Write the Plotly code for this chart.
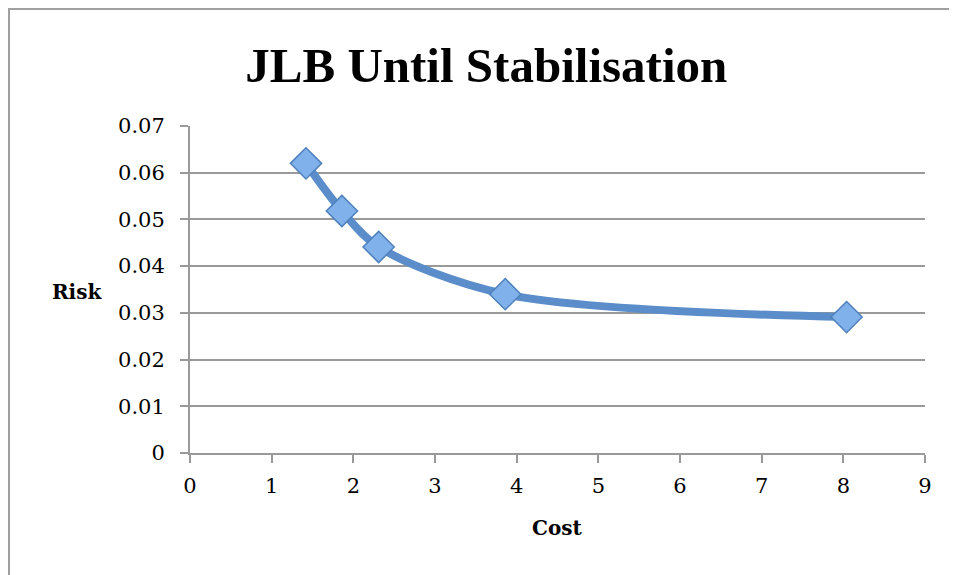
import plotly.graph_objects as go

cost = [1.42, 1.86, 2.31, 3.86, 8.04]
risk = [0.062, 0.0518, 0.0441, 0.034, 0.0291]
x_ticks = [0, 1, 2, 3, 4, 5, 6, 7, 8, 9]
y_ticks = [0, 0.01, 0.02, 0.03, 0.04, 0.05, 0.06, 0.07]
y_tick_labels = ["0", "0.01", "0.02", "0.03", "0.04", "0.05", "0.06", "0.07"]

serif = "DejaVu Serif, serif"
title_font = "Liberation Serif, DejaVu Serif, serif"

W, H = 949, 567
L, R, T, B = 182, 32, 118, 122
pw, ph = W - L - R, H - T - B

fig = go.Figure()
fig.add_trace(go.Scatter(
    x=cost, y=risk, mode="lines",
    line=dict(color="#5A8DC9", width=8, shape="spline", smoothing=0.9),
    hoverinfo="skip", showlegend=False,
))
fig.add_trace(go.Scatter(
    x=cost, y=risk, mode="markers",
    marker=dict(symbol="diamond", size=24, color="#80B1EA",
                line=dict(color="#4F81BD", width=1.5)),
    showlegend=False,
))

fig.update_layout(
    width=W, height=H,
    paper_bgcolor="white", plot_bgcolor="white",
    margin=dict(l=L, r=R, t=T, b=B),
    title=dict(text="<b>JLB Until Stabilisation</b>", x=0.504, xanchor="center",
               y=0.899, yanchor="middle",
               font=dict(family=title_font, size=49, color="black")),
    xaxis=dict(range=[0, 9], tickvals=x_ticks, showgrid=False, zeroline=False,
               showline=True, linecolor="#999999", linewidth=2,
               ticks="outside", ticklen=8, tickcolor="#999999", tickwidth=2,
               ticklabelstandoff=5,
               tickfont=dict(family=serif, size=21, color="black")),
    yaxis=dict(range=[0, 0.07], tickvals=y_ticks, ticktext=y_tick_labels,
               showgrid=True, gridcolor="#999999", gridwidth=1.5, zeroline=False,
               showline=True, linecolor="#999999", linewidth=2,
               ticks="outside", ticklen=8, tickcolor="#999999", tickwidth=2,
               ticklabelstandoff=11,
               tickfont=dict(family=serif, size=21, color="black")),
    shapes=[dict(type="rect", xref="paper", yref="paper",
                 x0=(1 - L) / pw, x1=1 + (R + 40) / pw,
                 y0=-(B + 40) / ph, y1=1 + (T - 1) / ph,
                 line=dict(color="#A0A0A0", width=2),
                 fillcolor="rgba(0,0,0,0)", layer="below")],
    annotations=[
        dict(text="<b>Risk</b>", x=(69 - L) / pw, y=(T + ph - 284) / ph,
             xref="paper", yref="paper", xanchor="center", yanchor="middle",
             showarrow=False, font=dict(family=serif, size=20, color="black")),
        dict(text="<b>Cost</b>", x=(549 - L) / pw, y=(T + ph - 520) / ph,
             xref="paper", yref="paper", xanchor="center", yanchor="middle",
             showarrow=False, font=dict(family=serif, size=20, color="black")),
    ],
)

fig.write_html("out.html")
